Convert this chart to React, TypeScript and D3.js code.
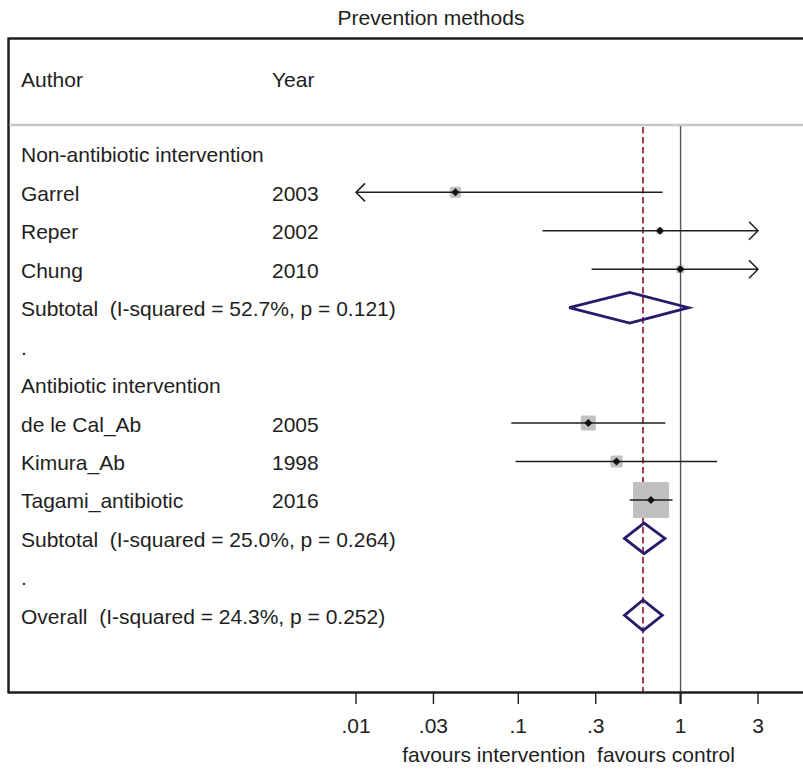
import React from "react";
import * as d3 from "d3";

const title = "Prevention methods";
const headerAuthor = "Author";
const headerYear = "Year";

const groupNames = ["Non-antibiotic intervention", "Antibiotic intervention"];
const studyGroup = [0, 0, 0, 1, 1, 1];
const authors = ["Garrel", "Reper", "Chung", "de le Cal_Ab", "Kimura_Ab", "Tagami_antibiotic"];
const years = ["2003", "2002", "2010", "2005", "1998", "2016"];
const estimates = [0.041, 0.746, 0.996, 0.27, 0.403, 0.657];
const lowerCI = [0.002, 0.141, 0.283, 0.0906, 0.0962, 0.486];
const upperCI = [0.775, 4.5, 4.0, 0.806, 1.68, 0.893];
const weights = [6.4, 2.6, 3.4, 11.8, 7.6, 68.2];

const subtotalLabels = [
  "Subtotal  (I-squared = 52.7%, p = 0.121)",
  "Subtotal  (I-squared = 25.0%, p = 0.264)",
];
const subtotalLow = [0.206, 0.451];
const subtotalEst = [0.486, 0.596];
const subtotalHigh = [1.12, 0.801];

const overallLabel = "Overall  (I-squared = 24.3%, p = 0.252)";
const overallLow = 0.451;
const overallEst = 0.587;
const overallHigh = 0.772;

const tickValues = [0.01, 0.03, 0.1, 0.3, 1, 3];
const tickLabels = [".01", ".03", ".1", ".3", "1", "3"];
const axisDomain = [0.01, 3];
const favoursText = "favours intervention  favours control";

const W = 803;
const H = 769;
const FONT = "'Liberation Sans', Arial, Helvetica, sans-serif";
const FS = 21;
const TEXT = "#1e1e1e";

const keepSpaces = (s: string) => s.replace(/  /g, " \u00A0");

type Row =
  | { kind: "group"; label: string }
  | { kind: "study"; idx: number }
  | { kind: "sub"; idx: number }
  | { kind: "dot" }
  | { kind: "overall" };

function buildRows(): Row[] {
  const rows: Row[] = [];
  groupNames.forEach((g, gi) => {
    rows.push({ kind: "group", label: g });
    authors.forEach((_, i) => {
      if (studyGroup[i] === gi) rows.push({ kind: "study", idx: i });
    });
    rows.push({ kind: "sub", idx: gi });
    rows.push({ kind: "dot" });
  });
  rows.push({ kind: "overall" });
  return rows;
}

export default function App() {
  const rows = buildRows();
  const x = d3.scaleLog().domain(axisDomain).range([356, 758]);
  const y = d3.scaleLinear().domain([0, rows.length - 1]).range([153.9, 615.3]);
  const boxScale = d3.scaleSqrt().domain([0, d3.max(weights) as number]).range([0, 36]);

  const frameLeft = 8.5;
  const frameTop = 38.5;
  const axisY = 692.5;
  const sepY = 125;
  const textX = 21;
  const yearX = 272;
  const baseOff = 8.5;
  const diamondH = 15.3;

  const diamondPath = (lo: number, est: number, hi: number, cy: number) => {
    const p = d3.path();
    p.moveTo(x(lo), cy);
    p.lineTo(x(est), cy - diamondH);
    p.lineTo(x(hi), cy);
    p.lineTo(x(est), cy + diamondH);
    p.closePath();
    return p.toString();
  };

  const textEls: React.ReactNode[] = [];
  const markEls: React.ReactNode[] = [];
  const boxEls: React.ReactNode[] = [];
  const diamondEls: React.ReactNode[] = [];

  rows.forEach((r, ri) => {
    const cy = y(ri);
    const by = cy + baseOff;
    if (r.kind === "group") {
      textEls.push(<text key={"t" + ri} x={textX} y={by}>{r.label}</text>);
    } else if (r.kind === "dot") {
      textEls.push(<text key={"t" + ri} x={textX} y={by}>.</text>);
    } else if (r.kind === "study") {
      const i = r.idx;
      textEls.push(<text key={"a" + ri} x={textX} y={by}>{authors[i]}</text>);
      textEls.push(<text key={"y" + ri} x={yearX} y={by}>{years[i]}</text>);
      const s = boxScale(weights[i]);
      const cx = x(estimates[i]);
      boxEls.push(
        <rect key={"b" + ri} x={cx - s / 2} y={cy - s / 2} width={s} height={s} rx={1.5} fill="#c0c0c0" />
      );
      const lo = Math.max(lowerCI[i], axisDomain[0]);
      const hi = Math.min(upperCI[i], axisDomain[1]);
      const x1 = x(lo);
      const x2 = x(hi);
      markEls.push(
        <line key={"l" + ri} x1={x1} x2={x2} y1={cy} y2={cy} stroke="#1e1e1e" strokeWidth={1.5} />
      );
      if (lowerCI[i] < axisDomain[0]) {
        markEls.push(
          <polyline key={"al" + ri} points={`${x1 + 9},${cy - 9} ${x1},${cy} ${x1 + 9},${cy + 9}`} fill="none" stroke="#1e1e1e" strokeWidth={1.5} />
        );
      }
      if (upperCI[i] > axisDomain[1]) {
        markEls.push(
          <polyline key={"ar" + ri} points={`${x2 - 9},${cy - 9} ${x2},${cy} ${x2 - 9},${cy + 9}`} fill="none" stroke="#1e1e1e" strokeWidth={1.5} />
        );
      }
      markEls.push(
        <path key={"p" + ri} d={`M${cx - 4},${cy} L${cx},${cy - 4} L${cx + 4},${cy} L${cx},${cy + 4} Z`} fill="#111" />
      );
    } else if (r.kind === "sub") {
      const i = r.idx;
      textEls.push(<text key={"s" + ri} x={textX} y={by}>{keepSpaces(subtotalLabels[i])}</text>);
      diamondEls.push(
        <path key={"d" + ri} d={diamondPath(subtotalLow[i], subtotalEst[i], subtotalHigh[i], cy)} fill="none" stroke="#2a1a6c" strokeWidth={2.8} strokeLinejoin="miter" />
      );
    } else if (r.kind === "overall") {
      textEls.push(<text key={"o" + ri} x={textX} y={by}>{keepSpaces(overallLabel)}</text>);
      diamondEls.push(
        <path key={"d" + ri} d={diamondPath(overallLow, overallEst, overallHigh, cy)} fill="none" stroke="#2a1a6c" strokeWidth={2.8} strokeLinejoin="miter" />
      );
    }
  });

  return (
    <svg
      width={W}
      height={H}
      style={{ position: "absolute", left: 0, top: 0, background: "#fff" }}
      fontFamily={FONT}
      fontSize={FS}
      fill={TEXT}
    >
      <rect x={0} y={0} width={W} height={H} fill="#fff" />
      <text x={431} y={25} textAnchor="middle">{title}</text>

      <line x1={frameLeft} x2={W} y1={frameTop} y2={frameTop} stroke="#1e1e1e" strokeWidth={2.5} />
      <line x1={frameLeft} x2={frameLeft} y1={frameTop - 1} y2={axisY + 1} stroke="#1e1e1e" strokeWidth={2.5} />

      <text x={textX} y={87}>{headerAuthor}</text>
      <text x={yearX} y={87}>{headerYear}</text>
      <line x1={frameLeft + 1} x2={W} y1={sepY} y2={sepY} stroke="#c8c8c8" strokeWidth={2.5} />

      <line x1={x(1)} x2={x(1)} y1={sepY + 1} y2={axisY} stroke="#555" strokeWidth={1.4} />
      <line x1={x(overallEst)} x2={x(overallEst)} y1={sepY + 2} y2={axisY} stroke="#a2404e" strokeWidth={2} strokeDasharray="6.5,3.5" />

      {boxEls}
      {markEls}
      {diamondEls}
      {textEls}

      <line x1={frameLeft} x2={W} y1={axisY} y2={axisY} stroke="#1e1e1e" strokeWidth={2.5} />
      {tickValues.map((v, i) => (
        <g key={"tk" + i}>
          <line x1={x(v)} x2={x(v)} y1={axisY} y2={704} stroke="#1e1e1e" strokeWidth={v === 1 ? 2.2 : 1.4} />
          <text x={x(v)} y={733} textAnchor="middle">{tickLabels[i]}</text>
        </g>
      ))}
      <text x={568.5} y={762} textAnchor="middle">{keepSpaces(favoursText)}</text>
    </svg>
  );
}
